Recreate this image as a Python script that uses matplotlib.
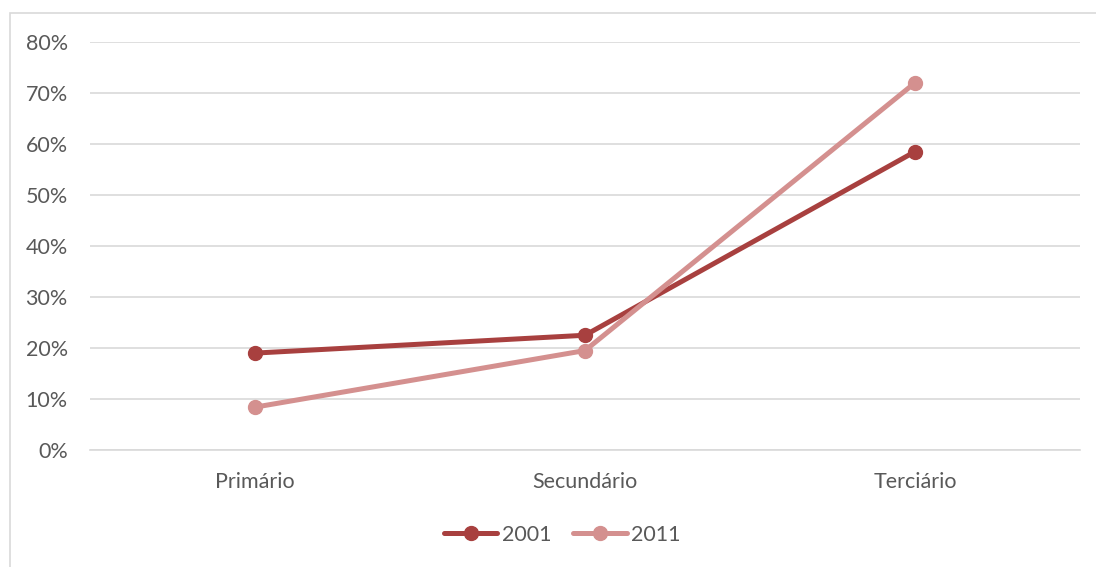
import matplotlib.pyplot as plt
from matplotlib.patches import Rectangle
from matplotlib.ticker import PercentFormatter

# dados
categorias = ['Primário', 'Secundário', 'Terciário']
serie_2001 = [19.0, 22.5, 58.5]
serie_2011 = [8.4, 19.5, 72.0]
anos = ['2001', '2011']
cores = ['#A8403F', '#D4908F']

plt.rcParams['font.family'] = ['Lato', 'DejaVu Sans']

fig = plt.figure(figsize=(10.96, 5.67), dpi=100)
ax = fig.add_axes([90 / 1096, 1 - 450 / 567, 990 / 1096, 408 / 567])

# moldura do gráfico
fig.patches.append(Rectangle((10 / 1096, -0.1), 1.2, 1 - 13 / 567 + 0.1,
                             transform=fig.transFigure, fill=False,
                             edgecolor='#D9D9D9', linewidth=1.2))

x = range(len(categorias))
for valores, ano, cor in zip([serie_2001, serie_2011], anos, cores):
    ax.plot(x, valores, color=cor, linewidth=3.6, marker='o', markersize=10,
            label=ano, solid_capstyle='round', zorder=3)

ax.set_xlim(-0.5, 2.5)
ax.set_ylim(0, 80)
ax.set_yticks(range(0, 81, 10))
ax.yaxis.set_major_formatter(PercentFormatter(decimals=0))
ax.set_xticks(list(x))
ax.set_xticklabels(categorias)
ax.grid(axis='y', color='#D9D9D9', linewidth=1.2)
ax.set_axisbelow(True)
for lado in ['top', 'right', 'left']:
    ax.spines[lado].set_visible(False)
ax.spines['bottom'].set_color('#D9D9D9')
ax.spines['bottom'].set_linewidth(1.2)
ax.tick_params(length=0, labelsize=15.5, labelcolor='#595959')
ax.tick_params(axis='y', pad=16)
ax.tick_params(axis='x', pad=16)

ax.legend(loc='center', bbox_to_anchor=(562 / 1096, 1 - 535 / 567),
          bbox_transform=fig.transFigure, ncol=2, frameon=False,
          fontsize=15.5, labelcolor='#595959', handlelength=2.5,
          handletextpad=0.2, columnspacing=1.0)

plt.savefig('out.png', dpi=100)
